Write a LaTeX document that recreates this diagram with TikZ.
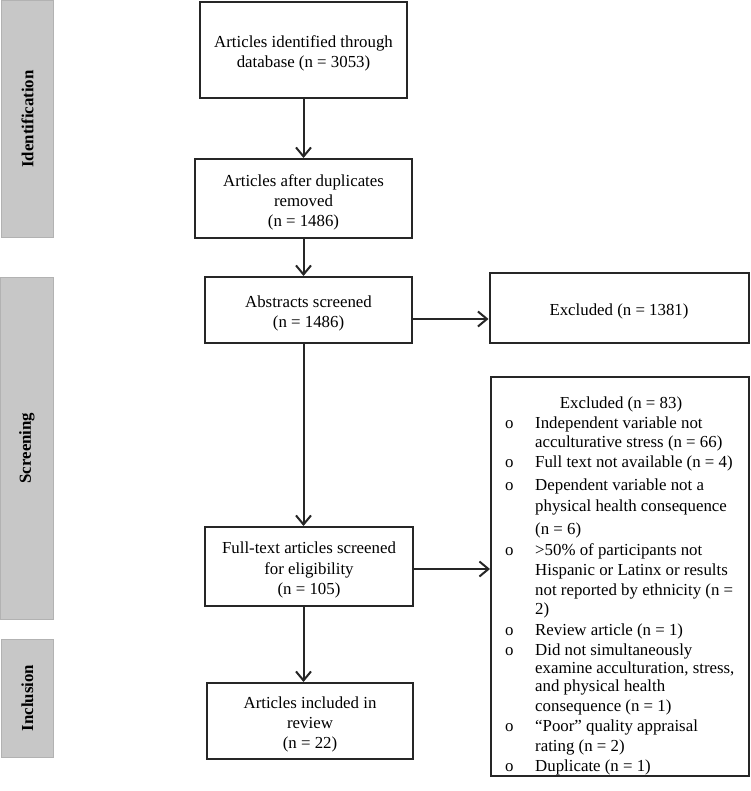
\documentclass[tikz,border=0pt]{standalone}
\usepackage{fontspec}
\setmainfont{Liberation Serif}
\usetikzlibrary{arrows.meta,calc}
\newcommand\mainfs{\fontsize{16.9}{20.2}\selectfont}
\begin{document}
\begin{tikzpicture}[x=1bp,y=-1bp,
  box/.style={draw=black!85, line width=2bp, inner sep=0pt},
  boxtext/.style={inner sep=0pt, align=center, font=\mainfs},
  bar/.style={fill=black!22, draw=black!30, line width=1bp, inner sep=0pt},
  barlabel/.style={rotate=90, font=\mainfs\bfseries, inner sep=0pt},
  arr/.style={draw=black!85, line width=2bp, -{Straight Barb[length=9bp,width=15bp,line width=2bp]}},
  listtext/.style={anchor=base west, inner sep=0pt, font=\mainfs},
]
\useasboundingbox (0,0) rectangle (751,791);

% side bars
\node[bar, minimum width=51bp, minimum height=237bp] (bid) at (27.5,119) {};
\node[barlabel] (lid) at (bid) {Identification};
\node[bar, minimum width=52bp, minimum height=342bp] (bsc) at (27,448) {};
\node[barlabel] (lsc) at (bsc) {Screening};
\node[bar, minimum width=51bp, minimum height=118bp] (bin) at (27.5,698) {};
\node[barlabel] (lin) at (bin) {Inclusion};

% boxes
\node[box, minimum width=207bp, minimum height=96bp] (box1) at (303.5,50) {};
\node[boxtext] (t1) at ($(box1)+(0,3.5)$) {Articles identified through\\database (n = 3053)};
\node[box, minimum width=217bp, minimum height=79bp] (box2) at (303.5,198.5) {};
\node[boxtext] (t2) at ($(box2)+(0,3.5)$) {Articles after duplicates\\removed\\(n = 1486)};
\node[box, minimum width=207bp, minimum height=66bp] (box3) at (308.5,310) {};
\node[boxtext] (t3) at ($(box3)+(0,3.5)$) {Abstracts screened\\(n = 1486)};
\node[box, minimum width=208bp, minimum height=79bp] (box4) at (309,566.5) {};
\node[boxtext] (t4) at ($(box4)+(0,3.5)$) {Full-text articles screened\\for eligibility\\(n = 105)};
\node[box, minimum width=206bp, minimum height=76bp] (box5) at (310,721) {};
\node[boxtext] (t5) at ($(box5)+(0,3.5)$) {Articles included in\\review\\(n = 22)};
\node[box, minimum width=259bp, minimum height=70bp] (excl1) at (619,308) {};
\node[boxtext] (t6) at ($(excl1)+(0,3)$) {Excluded (n = 1381)};
\node[box, minimum width=258bp, minimum height=399bp] (ex83) at (620,576.5) {};

% excluded list
\node[anchor=base, inner sep=0pt, font=\mainfs] (ex83t) at (621,408) {Excluded (n = 83)};
\foreach \yy/\tx [count=\i] in {
  423/{Independent variable not},
  442/{acculturative stress (n = 66)},
  462/{Full text not available (n = 4)},
  485/{Dependent variable not a},
  506.7/{physical health consequence},
  529.5/{(n = 6)},
  550/{>50\% of participants not},
  570/{Hispanic or Latinx or results},
  590/{not reported by ethnicity (n =},
  609.5/{2)},
  630/{Review article (n = 1)},
  650/{Did not simultaneously},
  668.5/{examine acculturation, stress,},
  686.7/{and physical health},
  706.7/{consequence (n = 1)},
  726.7/{“Poor” quality appraisal},
  746.7/{rating (n = 2)},
  766.7/{Duplicate (n = 1)}}
  \node[listtext] (it\i) at (535,\yy+5) {\tx};
\foreach \yy [count=\i] in {423,462,485,550,630,650,726.7,766.7}
  \node[listtext] (bu\i) at (505,\yy+5) {o};

% connectors
\coordinate (ya) at (0,319);
\coordinate (yb) at (0,569);
\draw[arr] (box1.south) -- (box2.north);
\draw[arr] (box2.south) -- (box2.south |- box3.north);
\draw[arr] (box3.east |- ya) -- (excl1.west |- ya);
\draw[arr] (box3.south -| box2.south) -- (box4.north -| box2.south);
\draw[arr] (box4.east |- yb) -- (ex83.west |- yb);
\draw[arr] (box4.south -| box2.south) -- (box5.north -| box2.south);
\end{tikzpicture}
\end{document}
